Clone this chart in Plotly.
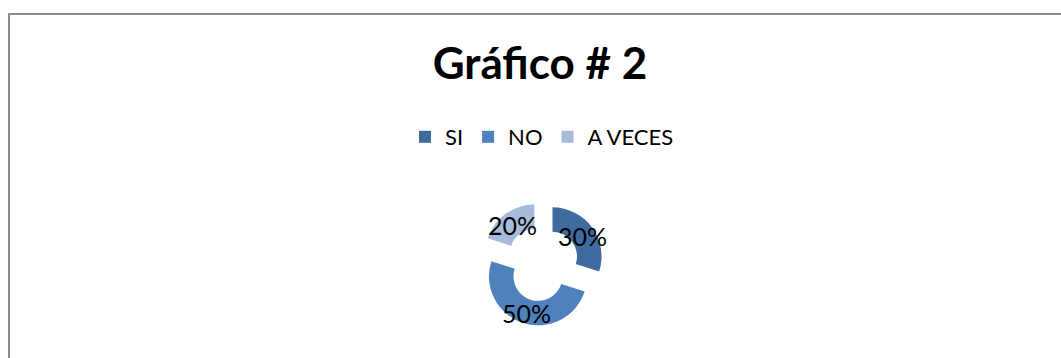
import math
import plotly.graph_objects as go

# Survey answers for the second chart
categories = ["SI", "NO", "A VECES"]
shares = [30, 50, 20]
colors = ["#3F6B9F", "#4F81BD", "#A8BAD9"]

W, H = 1061, 358

# Donut geometry (pixels): centre, half-size of the pie box, hole and pull
cx, cy, half = 542, 264, 62
hole = 0.5
pull = 0.265

dom_x = [(cx - half) / W, (cx + half) / W]
dom_y = [1 - (cy + half) / H, 1 - (cy - half) / H]

fig = go.Figure(
    go.Pie(
        labels=categories,
        values=shares,
        marker=dict(colors=colors, line=dict(width=0)),
        hole=hole,
        pull=[pull] * len(shares),
        sort=False,
        direction="clockwise",
        rotation=0,
        textinfo="none",
        domain=dict(x=dom_x, y=dom_y),
        hoverinfo="label+percent",
    )
)

# Percentage labels placed at the middle of each (pulled) ring segment,
# using the same radius rule as the pie: r = half / (1 + max pull)
r = half / (1 + pull)
total = sum(shares)
start = 0.0
annotations = []
for value in shares:
    frac = value / total
    mid = 2 * math.pi * (start + frac / 2)
    dist = pull * r + r * (1 + hole) / 2
    px = cx + dist * math.sin(mid)
    py = cy - dist * math.cos(mid)
    annotations.append(
        dict(
            x=px / W,
            y=1 - (py + 1.5) / H,
            xref="paper",
            yref="paper",
            text=f"{round(frac * 100)}%",
            showarrow=False,
            xanchor="center",
            yanchor="middle",
            font=dict(family="Lato", size=25, color="#000000"),
        )
    )
    start += frac

fig.update_layout(
    width=W,
    height=H,
    margin=dict(l=0, r=0, t=0, b=0),
    paper_bgcolor="#FFFFFF",
    plot_bgcolor="#FFFFFF",
    annotations=annotations,
    title=dict(
        text="<b>Gráfico # 2</b>",
        font=dict(family="Lato", size=44, color="#000000"),
        x=540 / W,
        xanchor="center",
        y=1 - 64 / H,
        yanchor="middle",
    ),
    legend=dict(
        orientation="h",
        x=542 / W,
        xanchor="center",
        y=1 - 137 / H,
        yanchor="middle",
        font=dict(family="Lato", size=22, color="#000000"),
        traceorder="normal",
    ),
    shapes=[
        dict(
            type="rect",
            xref="paper",
            yref="paper",
            x0=9 / W,
            x1=1.05,
            y0=-0.05,
            y1=1 - 14 / H,
            line=dict(color="#8C8C8C", width=2),
            fillcolor="rgba(0,0,0,0)",
            layer="above",
        )
    ],
)

fig.write_html("out.html")
